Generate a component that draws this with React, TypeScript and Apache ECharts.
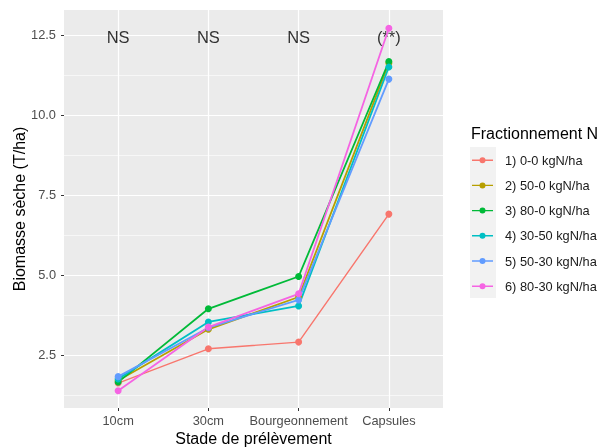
import React, { useEffect, useRef } from "react";
import * as echarts from "echarts";

const categories = ["10cm", "30cm", "Bourgeonnement", "Capsules"];
const seriesNames = [
  "1) 0-0 kgN/ha",
  "2) 50-0 kgN/ha",
  "3) 80-0 kgN/ha",
  "4) 30-50 kgN/ha",
  "5) 50-30 kgN/ha",
  "6) 80-30 kgN/ha",
];
const colors = ["#F8766D", "#B79F00", "#00BA38", "#00BFC4", "#619CFF", "#F564E3"];
const s1 = [1.62, 2.69, 2.9, 6.9];
const s2 = [1.7, 3.3, 4.31, 11.62];
const s3 = [1.65, 3.94, 4.95, 11.67];
const s4 = [1.75, 3.53, 4.03, 11.5];
const s5 = [1.82, 3.35, 4.22, 11.12];
const s6 = [1.38, 3.37, 4.41, 12.71];
const seriesValues = [s1, s2, s3, s4, s5, s6];
const annotations = ["NS", "NS", "NS", "(**)"];
const annotationY = 12.45;
const yTicks = [2.5, 5, 7.5, 10, 12.5];
const yMinor = [1.25, 3.75, 6.25, 8.75, 11.25];
const xPositions = [1, 2, 3, 4];
const xTitle = "Stade de prélèvement";
const yTitle = "Biomasse sèche (T/ha)";
const legendTitle = "Fractionnement N";

const FONT = "Liberation Sans, Arial, sans-serif";
const LEGEND_ICON = "path://M0,6.3 L21,6.3 L21,7.7 L0,7.7 Z M13.5,7 A3,3 0 1,1 7.5,7 A3,3 0 1,1 13.5,7 Z";

export default function App() {
  const ref = useRef<HTMLDivElement>(null);
  useEffect(() => {
    if (!ref.current) return;
    const chart = echarts.init(ref.current, undefined, { renderer: "svg" });
    const gridSeries: any = {
      type: "line",
      name: "__grid",
      data: [],
      silent: true,
      z: 0,
      markLine: {
        silent: true,
        symbol: "none",
        animation: false,
        z: 0,
        label: { show: false },
        data: [
          ...yMinor.map((v) => ({ yAxis: v, lineStyle: { color: "#FFFFFF", width: 0.6, type: "solid" } })),
          ...yTicks.map((v) => ({ yAxis: v, lineStyle: { color: "#FFFFFF", width: 1.2, type: "solid" } })),
          ...xPositions.map((v) => ({ xAxis: v, lineStyle: { color: "#FFFFFF", width: 1.2, type: "solid" } })),
        ],
      },
    };
    const dataSeries = seriesValues.map((vals, i) => ({
      type: "line",
      name: seriesNames[i],
      data: vals.map((v, j) => [xPositions[j], v]),
      symbol: "circle",
      symbolSize: 7,
      z: 3,
      lineStyle: { color: colors[i], width: i === 0 ? 1.4 : 1.8 },
      itemStyle: { color: colors[i] },
    }));
    const annSeries: any = {
      type: "scatter",
      name: "__ann",
      data: annotations.map((t, j) => ({ value: [xPositions[j], annotationY], label: t })),
      symbolSize: 0,
      silent: true,
      z: 2,
      label: {
        show: true,
        position: "inside",
        formatter: (p: any) => p.data.label,
        color: "#000000",
        textBorderWidth: 0,
        textBorderColor: "transparent",
        fontSize: 16.5,
        fontFamily: FONT,
      },
    };
    chart.setOption({
      animation: false,
      textStyle: { fontFamily: FONT },
      grid: {
        left: 64,
        top: 10,
        width: 379,
        height: 398,
        show: true,
        backgroundColor: "#EBEBEB",
        borderWidth: 0,
        containLabel: false,
        outerBoundsMode: "none",
      },
      xAxis: {
        type: "value",
        min: 0.4,
        max: 4.6,
        axisLine: { show: false },
        splitLine: { show: false },
        axisTick: { show: true, customValues: xPositions, length: 3, lineStyle: { color: "#333333" } },
        axisLabel: {
          customValues: xPositions,
          formatter: (v: number) => categories[Math.round(v) - 1] ?? "",
          color: "#4D4D4D",
          fontSize: 12.8,
          margin: 6,
          fontFamily: FONT,
        },
      },
      yAxis: {
        type: "value",
        min: 0.84,
        max: 13.28,
        axisLine: { show: false },
        splitLine: { show: false },
        axisTick: { show: true, customValues: yTicks, length: 3, lineStyle: { color: "#333333" } },
        axisLabel: {
          customValues: yTicks,
          formatter: (v: number) => v.toFixed(1),
          color: "#4D4D4D",
          fontSize: 12.8,
          margin: 8,
          fontFamily: FONT,
        },
      },
      legend: {
        data: seriesNames,
        orient: "vertical",
        left: 472,
        top: 153.7,
        padding: 0,
        icon: LEGEND_ICON,
        itemWidth: 21,
        itemHeight: 14,
        itemGap: 12.2,
        textStyle: { color: "#1A1A1A", fontSize: 12.8, fontFamily: FONT, padding: [0, 0, 0, 7] },
        selectedMode: false,
      },
      graphic: [
        {
          type: "rect",
          z: -1,
          shape: { x: 470, y: 147, width: 26, height: 151 },
          style: { fill: "#F2F2F2" },
        },
        {
          type: "text",
          x: 471,
          y: 133,
          style: {
            text: legendTitle,
            fill: "#000000",
            fontSize: 16,
            fontFamily: FONT,
            verticalAlign: "middle",
          },
        },
        {
          type: "text",
          x: 253.5,
          y: 438,
          style: {
            text: xTitle,
            fill: "#000000",
            fontSize: 16,
            fontFamily: FONT,
            align: "center",
            verticalAlign: "middle",
          },
        },
        {
          type: "text",
          x: 19.5,
          y: 209,
          rotation: Math.PI / 2,
          style: {
            text: yTitle,
            fill: "#000000",
            fontSize: 16,
            fontFamily: FONT,
            align: "center",
            verticalAlign: "middle",
          },
        },
      ],
      series: [gridSeries, ...dataSeries, annSeries],
    });
    return () => chart.dispose();
  }, []);
  return (
    <div
      ref={ref}
      style={{ position: "fixed", left: 0, top: 0, width: 601, height: 447 }}
    />
  );
}
